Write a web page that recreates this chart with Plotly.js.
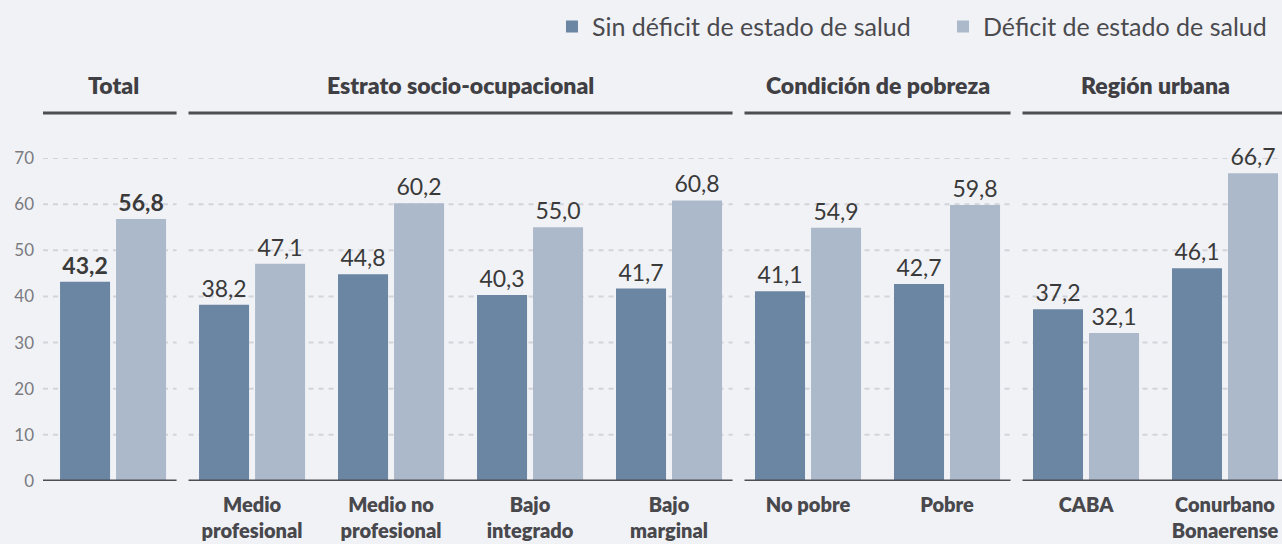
<!DOCTYPE html>
<html>
<head>
<meta charset="utf-8">
<script src="https://cdn.plot.ly/plotly-3.0.1.min.js"></script>
<style>
  html, body { margin: 0; padding: 0; background: #f1f2f6; }
  #chart { width: 1282px; height: 544px; }
</style>
</head>
<body>
<div id="chart"></div>
<script>
// ---- Data ----
var categories = ["", "Medio<br>profesional", "Medio no<br>profesional", "Bajo<br>integrado", "Bajo<br>marginal", "No pobre", "Pobre", "CABA", "Conurbano<br>Bonaerense"];
var sinDeficit = [43.2, 38.2, 44.8, 40.3, 41.7, 41.1, 42.7, 37.2, 46.1];
var deficit    = [56.8, 47.1, 60.2, 55.0, 60.8, 54.9, 59.8, 32.1, 66.7];
var seriesNames = ["Sin déficit de estado de salud", "Déficit de estado de salud"];
var groupNames = ["Total", "Estrato socio-ocupacional", "Condición de pobreza", "Región urbana"];
var groupStart = [0, 1, 5, 7];   // first category index of each group
var groupEnd   = [0, 4, 6, 8];   // last category index of each group
var yTicks = [0, 10, 20, 30, 40, 50, 60, 70];

var xIdx = categories.map(function (_, i) { return i; });
var FONT = "Lato, 'Open Sans', sans-serif";
var xMin = -0.504, xMax = 8.41;
var inset = 0.043;

function labelTemplates() {
  return xIdx.map(function (i) { return i === 0 ? "<b>%{y:.1f}</b>" : "%{y:.1f}"; });
}

var traces = [
  {
    type: "bar", name: seriesNames[0], x: xIdx, y: sinDeficit, legend: "legend",
    marker: { color: "#6a86a3" },
    texttemplate: labelTemplates(), textposition: "outside",
    textfont: { family: FONT, size: 23, color: "#3a3a3a" },
    cliponaxis: false, constraintext: "none", hoverinfo: "skip"
  },
  {
    type: "bar", name: seriesNames[1], x: xIdx, y: deficit, legend: "legend2",
    marker: { color: "#acb9cb" },
    texttemplate: labelTemplates(), textposition: "outside",
    textfont: { family: FONT, size: 23, color: "#3a3a3a" },
    cliponaxis: false, constraintext: "none", hoverinfo: "skip"
  }
];

var shapes = [];
var annotations = [];
groupNames.forEach(function (g, k) {
  var x0 = groupStart[k] - 0.5 + inset;
  var x1 = groupEnd[k] + 0.5 - inset;
  if (k === 0) x0 = xMin;
  if (k === groupNames.length - 1) x1 = xMax;
  // header line
  shapes.push({ type: "line", xref: "x", yref: "paper", x0: x0, x1: x1, y0: 1.139, y1: 1.139,
    line: { color: "#4d4d52", width: 3 } });
  // baseline
  shapes.push({ type: "line", xref: "x", yref: "y", x0: x0, x1: x1, y0: 0, y1: 0,
    line: { color: "#4d4d52", width: 3 }, layer: "above" });
  // dashed gridlines
  yTicks.forEach(function (v) {
    if (v === 0) return;
    shapes.push({ type: "line", xref: "x", yref: "y", x0: x0, x1: x1, y0: v, y1: v,
      line: { color: "#d3d4d9", width: 2, dash: "5px,5px" }, layer: "below" });
  });
  annotations.push({ text: g, xref: "x", yref: "paper", x: (groupStart[k] + groupEnd[k]) / 2, y: 1.226,
    showarrow: false, xanchor: "center", yanchor: "middle",
    font: { family: FONT, size: 23, color: "#3f3f44", weight: 800 } });
});

var legendStyle = function (xPos) {
  return {
    orientation: "h", xref: "paper", yref: "paper", x: xPos, xanchor: "left", y: 1.406, yanchor: "middle",
    font: { family: FONT, size: 25, color: "#4a4a4f" }, bgcolor: "rgba(0,0,0,0)"
  };
};

var layout = {
  width: 1282, height: 544,
  margin: { l: 43, r: 0, t: 158, b: 63 },
  paper_bgcolor: "#f1f2f6", plot_bgcolor: "#f1f2f6",
  separators: ",.",
  barmode: "group", bargap: 0.194, bargroupgap: 0.107,
  showlegend: true,
  legend: legendStyle(0.4108),
  legend2: legendStyle(0.7264),
  xaxis: {
    range: [xMin, xMax], tickvals: xIdx, ticktext: categories,
    showgrid: false, zeroline: false, showline: false, ticks: "",
    ticklabelstandoff: 10,
    tickfont: { family: FONT, size: 20, color: "#48484d", weight: 800 }
  },
  yaxis: {
    range: [0, 70], tickvals: yTicks, showgrid: false, zeroline: false, showline: false,
    ticks: "", ticklabelstandoff: 8,
    tickfont: { family: FONT, size: 17, color: "#7a7a7f" }
  },
  shapes: shapes,
  annotations: annotations
};

Plotly.newPlot("chart", traces, layout, { displayModeBar: false, staticPlot: true });
</script>
</body>
</html>
